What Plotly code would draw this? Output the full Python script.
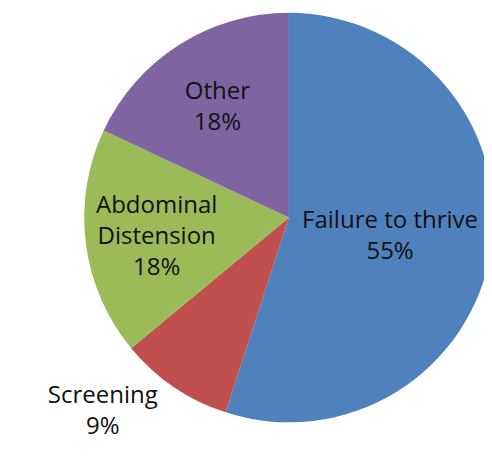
import plotly.graph_objects as go

categories = ["Failure to thrive", "Screening", "Abdominal Distension", "Other"]
display_labels = ["Failure to thrive", "Screening", "Abdominal<br>Distension", "Other"]
percent_values = [55, 9, 18, 18]
slice_colors = ["#4F81BD", "#C0504D", "#9BBB59", "#8064A2"]
text_positions = ["inside", "outside", "inside", "inside"]

fig = go.Figure(
    go.Pie(
        labels=categories,
        values=percent_values,
        text=display_labels,
        texttemplate="%{text}<br>%{percent:.0%}",
        textposition=text_positions,
        insidetextorientation="horizontal",
        sort=False,
        direction="clockwise",
        rotation=0,
        marker=dict(colors=slice_colors, line=dict(width=0)),
        textfont=dict(family="Open Sans", size=24, color="#111111"),
        showlegend=False,
        hoverinfo="label+percent",
        domain=dict(x=[0.152, 0.99], y=[0.121, 0.996]),
    )
)

fig.update_layout(
    width=492,
    height=471,
    margin=dict(l=0, r=0, t=0, b=0),
    paper_bgcolor="white",
    plot_bgcolor="white",
    uniformtext=dict(minsize=24, mode="show"),
)

fig.write_html("out.html")
